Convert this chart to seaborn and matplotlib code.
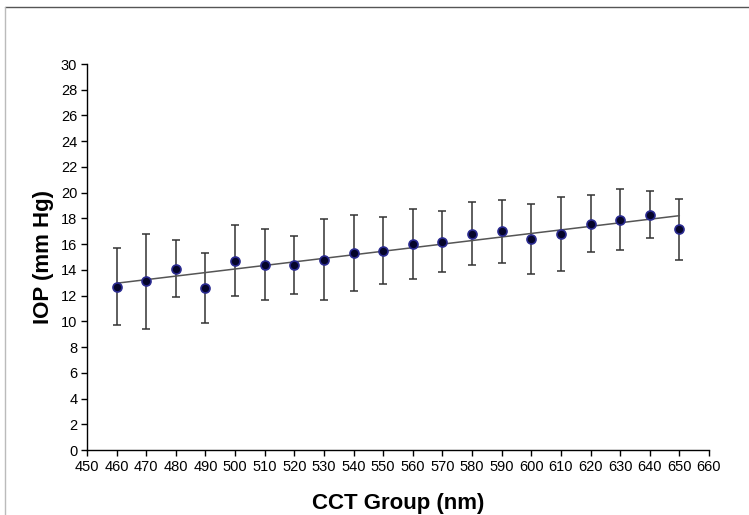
import numpy as np
import pandas as pd
import seaborn as sns
import matplotlib.pyplot as plt
from matplotlib.lines import Line2D

# Datos
cct = [460, 470, 480, 490, 500, 510, 520, 530, 540, 550,
       560, 570, 580, 590, 600, 610, 620, 630, 640, 650]
iop_mean = [12.7, 13.1, 14.1, 12.6, 14.7, 14.4, 14.4, 14.8, 15.3, 15.5,
            16.0, 16.2, 16.8, 17.0, 16.4, 16.8, 17.6, 17.9, 18.3, 17.15]
iop_sd = [3.0, 3.7, 2.2, 2.7, 2.75, 2.75, 2.25, 3.15, 2.95, 2.6,
          2.7, 2.4, 2.45, 2.45, 2.7, 2.85, 2.25, 2.35, 1.85, 2.35]

df = pd.DataFrame({"cct": cct, "iop": iop_mean, "sd": iop_sd})

sns.set_style("ticks")
plt.rcParams["font.family"] = ["Liberation Sans", "DejaVu Sans"]
plt.rcParams["text.color"] = "black"
plt.rcParams["axes.labelcolor"] = "black"
plt.rcParams["xtick.color"] = "black"
plt.rcParams["ytick.color"] = "black"

fig = plt.figure(figsize=(7.49, 5.15), dpi=100)
ax = fig.add_axes([87 / 749, 65 / 515, 622 / 749, 386 / 515])

# barras de error
ax.errorbar(df["cct"], df["iop"], yerr=df["sd"], fmt="none",
            ecolor="#333333", elinewidth=1.1, capsize=2.9, capthick=1.1, zorder=2)

# linea de tendencia
sns.regplot(data=df, x="cct", y="iop", scatter=False, ci=None, ax=ax,
            line_kws={"color": "#555555", "lw": 1.1, "zorder": 3})

# puntos
sns.scatterplot(data=df, x="cct", y="iop", ax=ax, marker="o", s=42,
                color="#05052a", edgecolor="#2a2a90", linewidth=1.2, zorder=4)

ax.set_xlim(450, 660)
ax.set_ylim(0, 30)
ax.set_xticks(np.arange(450, 661, 10))
ax.set_yticks(np.arange(0, 31, 2))
ax.tick_params(axis="both", labelsize=10.5, length=4, width=1,
               color="black", labelcolor="black", pad=3)
sns.despine(ax=ax)
for s in ["left", "bottom"]:
    ax.spines[s].set_color("black")
    ax.spines[s].set_linewidth(1)

ax.set_xlabel("CCT Group (nm)", fontsize=16, fontweight="bold", labelpad=14, color="black")
ax.set_ylabel("IOP (mm Hg)", fontsize=16, fontweight="bold", labelpad=5, color="black")

# marco del recorte original
fig.add_artist(Line2D([5 / 749, 1], [1 - 7 / 515, 1 - 7 / 515], color="#555555", lw=1))
fig.add_artist(Line2D([5 / 749, 5 / 749], [0, 1 - 7 / 515], color="#bbbbbb", lw=1))

fig.savefig("out.png", dpi=100)
plt.close()
